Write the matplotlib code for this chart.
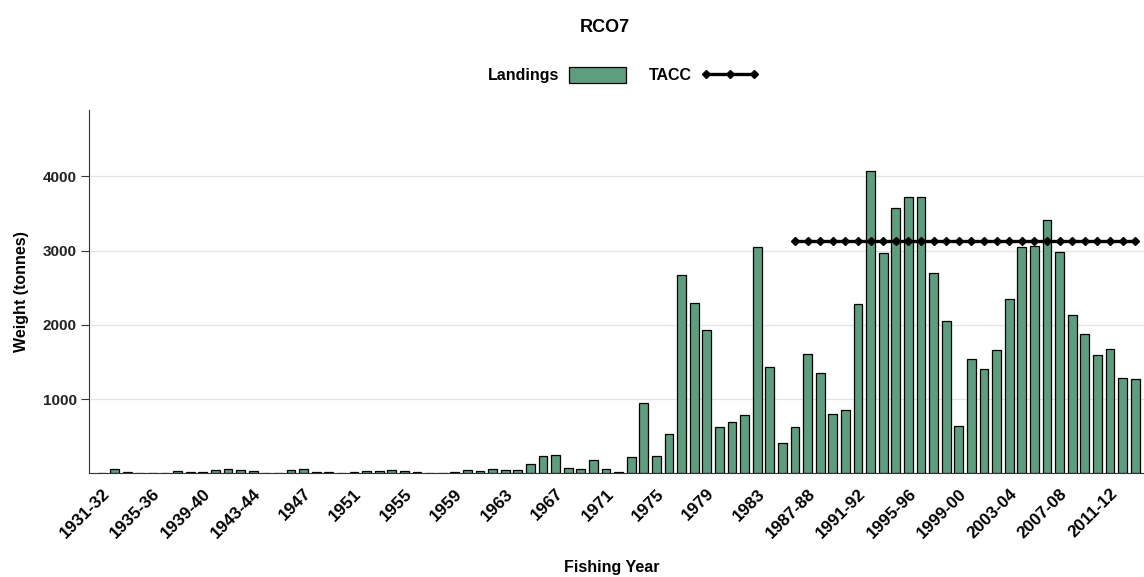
import matplotlib.pyplot as plt
from matplotlib.patches import Patch
from matplotlib.lines import Line2D

# fishing years, one per bar
years = ["1931-32", "1932-33", "1933-34", "1934-35", "1935-36", "1936-37", "1937-38",
         "1938-39", "1939-40", "1940-41", "1941-42", "1942-43", "1943-44", "1944-45",
         "1945-46", "1946", "1947", "1948", "1949", "1950", "1951", "1952", "1953",
         "1954", "1955", "1956", "1957", "1958", "1959", "1960", "1961", "1962", "1963",
         "1964", "1965", "1966", "1967", "1968", "1969", "1970", "1971", "1972", "1973",
         "1974", "1975", "1976", "1977", "1978", "1979", "1980", "1981", "1982", "1983",
         "1984", "1985", "1986-87", "1987-88", "1988-89", "1989-90", "1990-91", "1991-92",
         "1992-93", "1993-94", "1994-95", "1995-96", "1996-97", "1997-98", "1998-99",
         "1999-00", "2000-01", "2001-02", "2002-03", "2003-04", "2004-05", "2005-06",
         "2006-07", "2007-08", "2008-09", "2009-10", "2010-11", "2011-12", "2012-13",
         "2013-14"]

landings = [0, 65, 25, 0, 0, 0, 33, 20, 20, 47, 65, 47, 27, 0, 0, 47, 65, 20, 20, 0,
            15, 33, 33, 51, 33, 16, 0, 0, 16, 47, 33, 65, 47, 51, 123, 230, 244, 78, 65,
            186, 62, 15, 217, 955, 235, 530, 2673, 2293, 1935, 624, 696, 785, 3049, 1434,
            409, 620, 1604, 1358, 803, 848, 2280, 4074, 2973, 3573, 3725, 3725, 2700, 2051,
            633, 1537, 1403, 1658, 2351, 3049, 3063, 3412, 2987, 2132, 1872, 1600, 1676,
            1282, 1268]

tacc_start = "1986-87"
tacc_value = 3127

bar_color = "#5E9E7F"
bold = {"family": "Liberation Sans", "weight": "bold"}

x = list(range(len(years)))
i0 = years.index(tacc_start)
tacc_x = x[i0:]
tacc_y = [tacc_value] * len(tacc_x)

fig = plt.figure(figsize=(11.44, 5.77), dpi=100)
ax = fig.add_axes([0.0778, 0.1794, 0.9222, 0.6296])

ax.bar(x, landings, width=0.69, color=bar_color, edgecolor="black", linewidth=0.9, zorder=2)
ax.plot(tacc_x, tacc_y, color="black", linewidth=2.4, marker="D", markersize=4.5, zorder=3)

ax.set_xlim(-1.03, 82.7)
ax.set_ylim(0, 4889)
ax.set_yticks([1000, 2000, 3000, 4000])
ax.yaxis.grid(True, color="#E4E4E4", linewidth=0.9, zorder=0)
ax.set_axisbelow(True)

for s in ["top", "right"]:
    ax.spines[s].set_visible(False)
ax.spines["left"].set_color("#333333")
ax.spines["bottom"].set_color("#333333")

ax.set_xticks(x[::4])
ax.set_xticklabels(years[::4], rotation=45, ha="right", va="top", rotation_mode="anchor",
                   fontsize=12.3, **bold)
ax.tick_params(axis="x", length=0, pad=9)
ax.tick_params(axis="y", length=6, color="#333333", pad=3)
for lab in ax.get_yticklabels():
    lab.set_fontsize(11)
    lab.set_fontfamily("Liberation Sans")
    lab.set_fontweight("bold")
    lab.set_color("#222222")

ax.set_ylabel("Weight (tonnes)", fontsize=11.5, labelpad=10, **bold)
fig.text(0.535, 0.0173, "Fishing Year", ha="center", va="center", fontsize=11.5, **bold)
fig.text(0.529, 0.953, "RCO7", ha="center", va="center", fontsize=13, **bold)

handles = [Patch(facecolor=bar_color, edgecolor="black", linewidth=0.9),
           Line2D([0], [0], color="black", linewidth=2.4, marker="D", markersize=4.5)]
leg = fig.legend(handles, ["Landings", "TACC"], loc="center", bbox_to_anchor=(0.545, 0.87),
                 ncol=2, frameon=False, markerfirst=False, numpoints=3,
                 handlelength=3.6, handleheight=1.2, columnspacing=1.4, handletextpad=0.6,
                 prop={"family": "Liberation Sans", "weight": "bold", "size": 11.5})

fig.savefig("out.png", dpi=100)
